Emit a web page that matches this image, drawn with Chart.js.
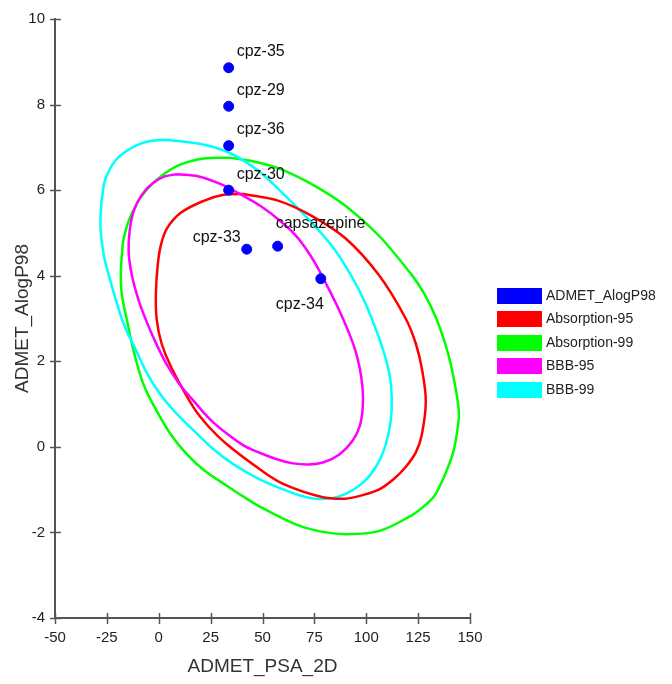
<!DOCTYPE html>
<html>
<head>
<meta charset="utf-8">
<script src="https://cdn.jsdelivr.net/npm/chart.js@4.4.1/dist/chart.umd.min.js"></script>
<style>
  html, body { margin: 0; padding: 0; background: #fff; }
</style>
</head>
<body>
<canvas id="myChart" width="672" height="684"></canvas>
<script>
// compounds (blue dots)
const compoundNames = ['cpz-35', 'cpz-29', 'cpz-36', 'cpz-30', 'cpz-33', 'capsazepine', 'cpz-34'];
const psa2D   = [33.7, 33.7, 33.7, 33.7, 42.4, 57.3, 78.1];
const alogP98 = [8.86, 7.96, 7.04, 6.00, 4.62, 4.69, 3.93];

// ellipse outlines (clockwise from the top)
const abs95X = [41.0, 57.8, 73.7, 90.1, 106.0, 119.0, 123.9, 126.8, 128.7, 126.8, 123.9, 119.0, 113.3, 106.0, 97.3, 90.1, 78.6, 60.2, 49.2, 32.8, 24.1, 16.9, 6.3, 1.4, -1.0, -1.4, -0.5, 1.0, 3.9, 10.6, 21.7, 31.3];
const abs95Y = [5.91, 5.75, 5.40, 4.87, 4.02, 3.00, 2.41, 1.83, 1.07, 0.29, -0.13, -0.47, -0.75, -1.00, -1.14, -1.21, -1.17, -0.87, -0.54, 0.06, 0.47, 0.91, 1.83, 2.41, 2.98, 3.56, 4.25, 4.71, 5.10, 5.47, 5.75, 5.89];

const abs99X = [33.7, 45.8, 57.8, 73.7, 90.1, 106.0, 121.9, 128.2, 133.5, 137.8, 141.2, 144.6, 143.6, 141.2, 133.5, 128.0, 121.9, 106.0, 90.1, 77.1, 66.0, 49.6, 41.0, 32.8, 21.7, 13.5, 5.8, -1.0, -7.2, -12.0, -15.4, -17.8, -18.3, -17.8, -16.9, -13.5, -7.2, 1.0, 10.6, 21.7];
const abs99Y = [6.76, 6.67, 6.51, 6.14, 5.63, 4.94, 4.02, 3.56, 3.03, 2.45, 1.83, 0.84, 0.29, -0.24, -1.10, -1.38, -1.60, -1.97, -2.04, -1.97, -1.81, -1.42, -1.17, -0.91, -0.54, -0.17, 0.29, 0.84, 1.44, 2.22, 2.98, 3.56, 4.02, 4.48, 4.87, 5.40, 5.93, 6.32, 6.60, 6.74];

const bbb95X = [8.7, 19.3, 29.9, 41.0, 49.6, 57.8, 65.1, 70.8, 76.1, 81.4, 86.8, 91.1, 94.5, 96.9, 98.3, 98.3, 96.9, 93.5, 87.2, 79.5, 72.3, 64.1, 56.9, 49.2, 41.0, 32.8, 24.6, 16.9, 10.1, 3.9, -1.4, -6.3, -10.1, -13.0, -14.5, -14.0, -12.0, -8.2, -2.9, 2.9];
const bbb95Y = [6.37, 6.32, 6.14, 5.86, 5.61, 5.31, 4.99, 4.64, 4.23, 3.74, 3.21, 2.73, 2.29, 1.83, 1.32, 0.91, 0.49, 0.15, -0.17, -0.36, -0.41, -0.38, -0.29, -0.15, 0.03, 0.31, 0.65, 1.07, 1.46, 1.92, 2.43, 2.98, 3.49, 4.02, 4.55, 5.06, 5.52, 5.89, 6.16, 6.32];

const bbb99X = [3.4, 20.2, 33.7, 47.2, 59.3, 73.7, 84.3, 92.5, 98.8, 104.1, 108.4, 111.3, 112.3, 111.8, 109.4, 105.1, 98.8, 90.1, 81.9, 72.3, 60.2, 48.2, 36.1, 26.5, 16.9, 8.7, 1.0, -5.3, -10.6, -16.9, -20.7, -24.1, -26.5, -28.0, -28.0, -27.2, -25.4, -20.0, -11.5, -3.9];
const bbb99Y = [7.18, 7.08, 6.88, 6.48, 5.95, 5.24, 4.64, 4.02, 3.44, 2.82, 2.22, 1.67, 1.14, 0.61, 0.06, -0.43, -0.82, -1.10, -1.21, -1.19, -1.00, -0.75, -0.41, -0.06, 0.38, 0.77, 1.21, 1.69, 2.22, 2.87, 3.44, 4.02, 4.48, 5.06, 5.45, 5.88, 6.30, 6.74, 7.03, 7.15];

const legendNames = ['ADMET_AlogP98', 'Absorption-95', 'Absorption-99', 'BBB-95', 'BBB-99'];
const legendColors = ['#0000ff', '#ff0000', '#00ff00', '#ff00ff', '#00ffff'];

function toPoints(xs, ys) {
    const pts = xs.map((x, i) => ({ x: x, y: ys[i] }));
    pts.push(pts[0]); // close the loop
    return pts;
}

function ellipse(label, xs, ys, color, order) {
    return {
        label: label,
        data: toPoints(xs, ys),
        showLine: true,
        tension: 0.35,
        borderColor: color,
        borderWidth: 2.5,
        pointRadius: 0,
        fill: false,
        order: order
    };
}

// where each compound name sits relative to its dot
const labelOffsets = [[8, -16, 'left'], [8, -16, 'left'], [8, -16, 'left'], [8, -16, 'left'],
                      [-6, -12, 'right'], [-2, -23, 'left'], [-21, 26, 'center']];

const extras = {
    id: 'extras',
    afterDraw(chart) {
        const ctx = chart.ctx;
        const xs = chart.scales.x, ys = chart.scales.y, ca = chart.chartArea;
        ctx.save();
        // tick marks crossing the axes
        ctx.strokeStyle = '#555';
        ctx.lineWidth = 1.5;
        xs.ticks.forEach(t => {
            const px = Math.round(xs.getPixelForValue(t.value)) + 0.5;
            ctx.beginPath(); ctx.moveTo(px, ca.bottom - 5); ctx.lineTo(px, ca.bottom + 6); ctx.stroke();
        });
        ys.ticks.forEach(t => {
            const py = Math.round(ys.getPixelForValue(t.value)) + 0.5;
            ctx.beginPath(); ctx.moveTo(ca.left - 5, py); ctx.lineTo(ca.left + 6, py); ctx.stroke();
        });
        // point labels
        ctx.fillStyle = '#111';
        ctx.font = '16px "Liberation Sans", Arial, sans-serif';
        ctx.textBaseline = 'middle';
        chart.getDatasetMeta(0).data.forEach((el, i) => {
            const o = labelOffsets[i];
            ctx.textAlign = o[2];
            ctx.fillText(compoundNames[i], el.x + o[0], el.y + o[1]);
        });
        // legend
        ctx.font = '14px "Liberation Sans", Arial, sans-serif';
        ctx.textAlign = 'left';
        const tops = [288, 311, 335, 358, 382];
        legendNames.forEach((name, i) => {
            ctx.fillStyle = legendColors[i];
            ctx.fillRect(497, tops[i], 45, 16);
            ctx.fillStyle = '#222';
            ctx.fillText(name, 546, tops[i] + 8.5);
        });
        ctx.restore();
    }
};

const tickFont = { family: '"Liberation Sans", Arial, sans-serif', size: 15 };

new Chart(document.getElementById('myChart'), {
    type: 'scatter',
    data: {
        datasets: [
            {
                label: 'ADMET_AlogP98',
                data: psa2D.map((x, i) => ({ x: x, y: alogP98[i] })),
                backgroundColor: '#0000ff',
                borderColor: '#0000ff',
                pointRadius: 5,
                order: 0
            },
            ellipse('Absorption-95', abs95X, abs95Y, '#ff0000', 2),
            ellipse('Absorption-99', abs99X, abs99Y, '#00ff00', 4),
            ellipse('BBB-95', bbb95X, bbb95Y, '#ff00ff', 1),
            ellipse('BBB-99', bbb99X, bbb99Y, '#00ffff', 3)
        ]
    },
    options: {
        responsive: false,
        animation: false,
        devicePixelRatio: 1,
        layout: { padding: { top: 11, right: 202, left: 0, bottom: 0 } },
        plugins: { legend: { display: false }, tooltip: { enabled: false } },
        scales: {
            x: {
                type: 'linear', min: -50, max: 150,
                ticks: { stepSize: 25, font: tickFont, color: '#222', padding: 11 },
                grid: { display: false, drawTicks: false },
                border: { display: true, color: '#555', width: 2 },
                title: { display: true, text: 'ADMET_PSA_2D', color: '#333',
                         font: { family: '"Liberation Sans", Arial, sans-serif', size: 19 },
                         padding: { top: 0, bottom: 6 } },
                afterFit: s => { s.height = 66; }
            },
            y: {
                type: 'linear', min: -4, max: 10,
                ticks: { stepSize: 2, font: tickFont, color: '#222', padding: 10 },
                grid: { display: false, drawTicks: false },
                border: { display: true, color: '#555', width: 2 },
                title: { display: true, text: 'ADMET_AlogP98', color: '#333',
                         font: { family: '"Liberation Sans", Arial, sans-serif', size: 19 },
                         padding: { top: 11, bottom: 0 } },
                afterFit: s => { s.width = 55; }
            }
        }
    },
    plugins: [extras]
});
</script>
</body>
</html>
